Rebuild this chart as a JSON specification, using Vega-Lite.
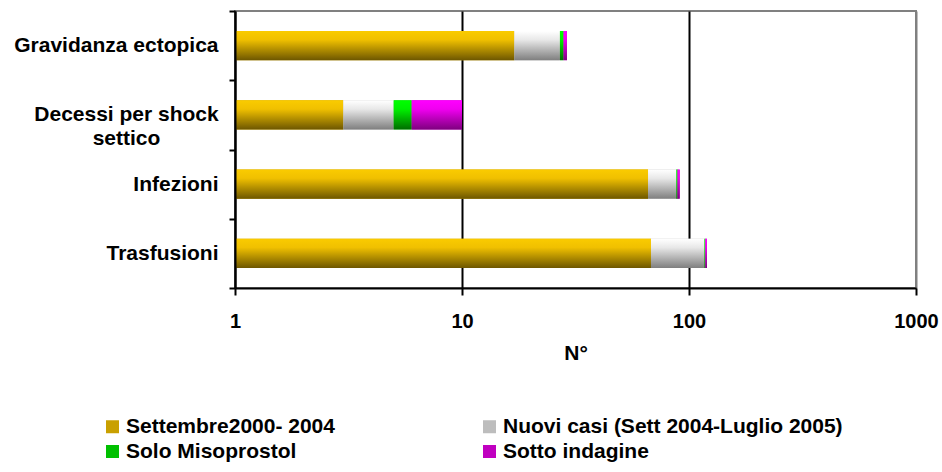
{
  "$schema": "https://vega.github.io/schema/vega-lite/v6.json",
  "width": 681,
  "height": 277,
  "autosize": "none",
  "padding": {"left": 235, "top": 11, "right": 26, "bottom": 184},
  "background": "white",
  "config": {
    "font": "Liberation Sans",
    "view": {"stroke": "#808080", "strokeWidth": 2}
  },
  "data": {
    "values": [
      {"categoria": "Gravidanza ectopica", "serie": "Settembre2000- 2004", "n": 17, "da": 1, "a": 17},
      {"categoria": "Gravidanza ectopica", "serie": "Nuovi casi (Sett 2004-Luglio 2005)", "n": 10, "da": 17, "a": 27},
      {"categoria": "Gravidanza ectopica", "serie": "Solo Misoprostol", "n": 1, "da": 27, "a": 28},
      {"categoria": "Gravidanza ectopica", "serie": "Sotto indagine", "n": 1, "da": 28, "a": 29},
      {"categoria": "Decessi per shock settico", "serie": "Settembre2000- 2004", "n": 3, "da": 1, "a": 3},
      {"categoria": "Decessi per shock settico", "serie": "Nuovi casi (Sett 2004-Luglio 2005)", "n": 2, "da": 3, "a": 5},
      {"categoria": "Decessi per shock settico", "serie": "Solo Misoprostol", "n": 1, "da": 5, "a": 6},
      {"categoria": "Decessi per shock settico", "serie": "Sotto indagine", "n": 4, "da": 6, "a": 10},
      {"categoria": "Infezioni", "serie": "Settembre2000- 2004", "n": 66, "da": 1, "a": 66},
      {"categoria": "Infezioni", "serie": "Nuovi casi (Sett 2004-Luglio 2005)", "n": 22, "da": 66, "a": 88},
      {"categoria": "Infezioni", "serie": "Solo Misoprostol", "n": 1, "da": 88, "a": 89},
      {"categoria": "Infezioni", "serie": "Sotto indagine", "n": 2, "da": 89, "a": 91},
      {"categoria": "Trasfusioni", "serie": "Settembre2000- 2004", "n": 68, "da": 1, "a": 68},
      {"categoria": "Trasfusioni", "serie": "Nuovi casi (Sett 2004-Luglio 2005)", "n": 49, "da": 68, "a": 117},
      {"categoria": "Trasfusioni", "serie": "Solo Misoprostol", "n": 1, "da": 117, "a": 118},
      {"categoria": "Trasfusioni", "serie": "Sotto indagine", "n": 2, "da": 118, "a": 120}
    ]
  },
  "encoding": {
    "y": {
      "field": "categoria",
      "type": "nominal",
      "sort": ["Gravidanza ectopica", "Decessi per shock settico", "Infezioni", "Trasfusioni"],
      "scale": {"paddingInner": 0, "paddingOuter": 0},
      "axis": {
        "title": null,
        "zindex": 1,
        "domainColor": "black",
        "domainWidth": 2,
        "tickColor": "black",
        "tickWidth": 2,
        "tickSize": 6,
        "tickBand": "extent",
        "labelFont": "Liberation Sans",
        "labelFontWeight": "bold",
        "labelFontSize": 21,
        "labelColor": "black",
        "labelLimit": 400,
        "labelLineHeight": 24,
        "labelExpr": "datum.value === 'Decessi per shock settico' ? ['Decessi per shock', 'settico'] : datum.value",
        "labelAlign": {"condition": {"test": "datum.value === 'Decessi per shock settico'", "value": "center"}, "value": "right"},
        "labelPadding": {"condition": {"test": "datum.value === 'Decessi per shock settico'", "value": 103}, "value": 11}
      }
    },
    "x": {
      "field": "da",
      "type": "quantitative",
      "scale": {"type": "log", "domain": [1, 1000]},
      "axis": {
        "title": "N°",
        "values": [1, 10, 100, 1000],
        "format": "d",
        "grid": true,
        "gridColor": {"condition": {"test": "datum.value === 1000", "value": "#808080"}, "value": "black"},
        "gridWidth": 2,
        "domainColor": "black",
        "domainWidth": 2,
        "tickColor": "black",
        "tickWidth": 2,
        "tickSize": 7,
        "labelFont": "Liberation Sans",
        "labelFontWeight": "bold",
        "labelFontSize": 20,
        "labelColor": "black",
        "labelPadding": 16,
        "labelFlush": false,
        "labelOverlap": false,
        "titleFont": "Liberation Sans",
        "titleFontWeight": "bold",
        "titleFontSize": 21,
        "titleColor": "black",
        "titlePadding": 11
      }
    },
    "x2": {"field": "a"}
  },
  "layer": [
    {
      "mark": {"type": "bar", "height": {"band": 0.42}},
      "encoding": {
        "color": {
          "field": "serie",
          "type": "nominal",
          "scale": {
            "domain": ["Settembre2000- 2004", "Nuovi casi (Sett 2004-Luglio 2005)", "Solo Misoprostol", "Sotto indagine"],
            "range": ["#C9A000", "#BDBDBD", "#00C000", "#C000C0"]
          },
          "legend": {
            "title": null,
            "orient": "none",
            "legendX": -133,
            "legendY": 405,
            "columns": 2,
            "direction": "horizontal",
            "columnPadding": 144,
            "rowPadding": 3,
            "padding": 0,
            "symbolType": "square",
            "symbolSize": 169,
            "symbolStrokeWidth": 0,
            "symbolOpacity": 1,
            "labelFont": "Liberation Sans",
            "labelFontWeight": "bold",
            "labelFontSize": 21,
            "labelColor": "black",
            "labelOffset": 3,
            "labelLimit": 600
          }
        }
      }
    },
    {
      "mark": {"type": "bar", "height": {"band": 0.42}},
      "encoding": {
        "color": {
          "condition": [
            {"test": "datum.serie === 'Nuovi casi (Sett 2004-Luglio 2005)'", "value": {"gradient": "linear", "x1": 0, "y1": 0, "x2": 0, "y2": 1, "stops": [{"offset": 0, "color": "#FFFFFF"}, {"offset": 0.3, "color": "#E8E8E8"}, {"offset": 1, "color": "#7F7F7F"}]}},
            {"test": "datum.serie === 'Solo Misoprostol'", "value": {"gradient": "linear", "x1": 0, "y1": 0, "x2": 0, "y2": 1, "stops": [{"offset": 0, "color": "#00FF00"}, {"offset": 0.3, "color": "#00F000"}, {"offset": 1, "color": "#006E00"}]}},
            {"test": "datum.serie === 'Sotto indagine'", "value": {"gradient": "linear", "x1": 0, "y1": 0, "x2": 0, "y2": 1, "stops": [{"offset": 0, "color": "#FF00FF"}, {"offset": 0.3, "color": "#F000F0"}, {"offset": 1, "color": "#7F007F"}]}}
          ],
          "value": {"gradient": "linear", "x1": 0, "y1": 0, "x2": 0, "y2": 1, "stops": [{"offset": 0, "color": "#FACB00"}, {"offset": 0.3, "color": "#F0C000"}, {"offset": 1, "color": "#6E5700"}]}
        }
      }
    }
  ]
}
